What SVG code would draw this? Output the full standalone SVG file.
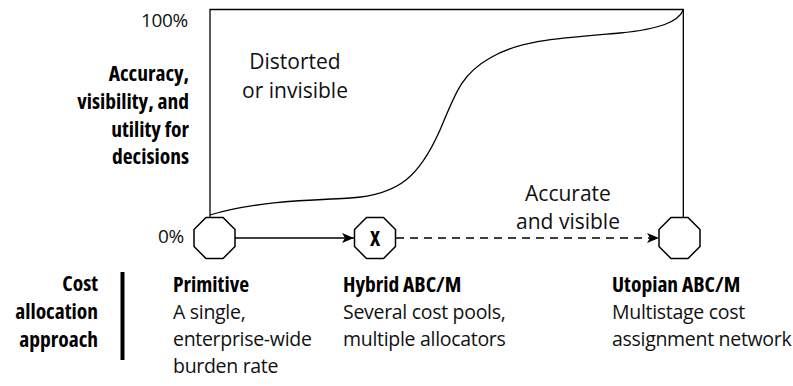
<svg xmlns="http://www.w3.org/2000/svg" width="793" height="386" viewBox="0 0 793 386">
<style>
.reg{font-family:"Open Sans","Noto Sans",sans-serif;font-size:19.5px;letter-spacing:-0.3px;fill:#111}
.pct{font-family:"Open Sans","Noto Sans",sans-serif;font-size:19px;letter-spacing:-0.3px;fill:#111}
.big{font-family:"Open Sans","Noto Sans",sans-serif;font-size:21px;fill:#111}
.bold{font-family:"Open Sans","Noto Sans",sans-serif;font-weight:700;font-stretch:84%;font-size:21.5px;fill:#000}
.ln{fill:none;stroke:#000;stroke-width:1.3}
.oct{fill:#fff;stroke:#000;stroke-width:1.5}
</style>
<defs>
<polygon id="octa" points="-8.5,-20.5 8.5,-20.5 20.5,-8.5 20.5,8.5 8.5,20.5 -8.5,20.5 -20.5,8.5 -20.5,-8.5"/>
<marker id="ah" viewBox="0 0 12 10" refX="12" refY="5" markerWidth="12" markerHeight="10" markerUnits="userSpaceOnUse" orient="auto">
<path d="M0,0 L12,5 L0,10 L3,5 Z" fill="#000"/>
</marker>
</defs>
<g id="chart">
<path class="ln" d="M210,217 L210,9.5 L683.3,9.5 L683.3,217"/>
<path class="ln" d="M210,215 C260,200 320,200 350,198 C400,195 420,175 440,130 C455,95 460,75 490,58 C520,40 560,38 620,33 C660,29 678,22 683.3,10"/>
<text class="pct" x="188" y="27" text-anchor="end">100%</text>
<text class="pct" x="184" y="243" text-anchor="end">0%</text>
<text class="big" x="295" y="69" text-anchor="middle">Distorted</text>
<text class="big" x="295" y="98" text-anchor="middle">or invisible</text>
<text class="big" x="568" y="201" text-anchor="middle">Accurate</text>
<text class="big" x="568" y="229" text-anchor="middle">and visible</text>
</g>
<g id="y-axis-label">
<text class="bold" text-anchor="end"><tspan x="189" y="81">Accuracy,</tspan><tspan x="189" y="109">visibility, and</tspan><tspan x="189" y="137">utility for</tspan><tspan x="189" y="164">decisions</tspan></text>
</g>
<g id="approach-label">
<text class="bold" text-anchor="end"><tspan x="98" y="291">Cost</tspan><tspan x="98" y="319">allocation</tspan><tspan x="98" y="347">approach</tspan></text>
<rect x="120.5" y="272" width="4" height="88" fill="#000"/>
</g>
<g id="connectors">
<line class="ln" x1="235" y1="238" x2="354" y2="238" marker-end="url(#ah)"/>
<line class="ln" x1="396" y1="238" x2="659" y2="238" stroke-dasharray="8,6" marker-end="url(#ah)"/>
</g>
<g id="primitive">
<use href="#octa" class="oct" x="214.5" y="238"/>
<text class="bold" x="173" y="292">Primitive</text>
<text class="reg"><tspan x="173" y="319">A single,</tspan><tspan x="173" y="346">enterprise-wide</tspan><tspan x="173" y="373">burden rate</tspan></text>
</g>
<g id="hybrid">
<use href="#octa" class="oct" x="375" y="238"/>
<text class="bold" x="375" y="246" text-anchor="middle">X</text>
<text class="bold" x="343" y="292">Hybrid ABC/M</text>
<text class="reg"><tspan x="343" y="319">Several cost pools,</tspan><tspan x="343" y="346">multiple allocators</tspan></text>
</g>
<g id="utopian">
<use href="#octa" class="oct" x="679.5" y="238"/>
<text class="bold" x="612" y="292">Utopian ABC/M</text>
<text class="reg"><tspan x="612" y="319">Multistage cost</tspan><tspan x="612" y="346">assignment network</tspan></text>
</g>
</svg>
